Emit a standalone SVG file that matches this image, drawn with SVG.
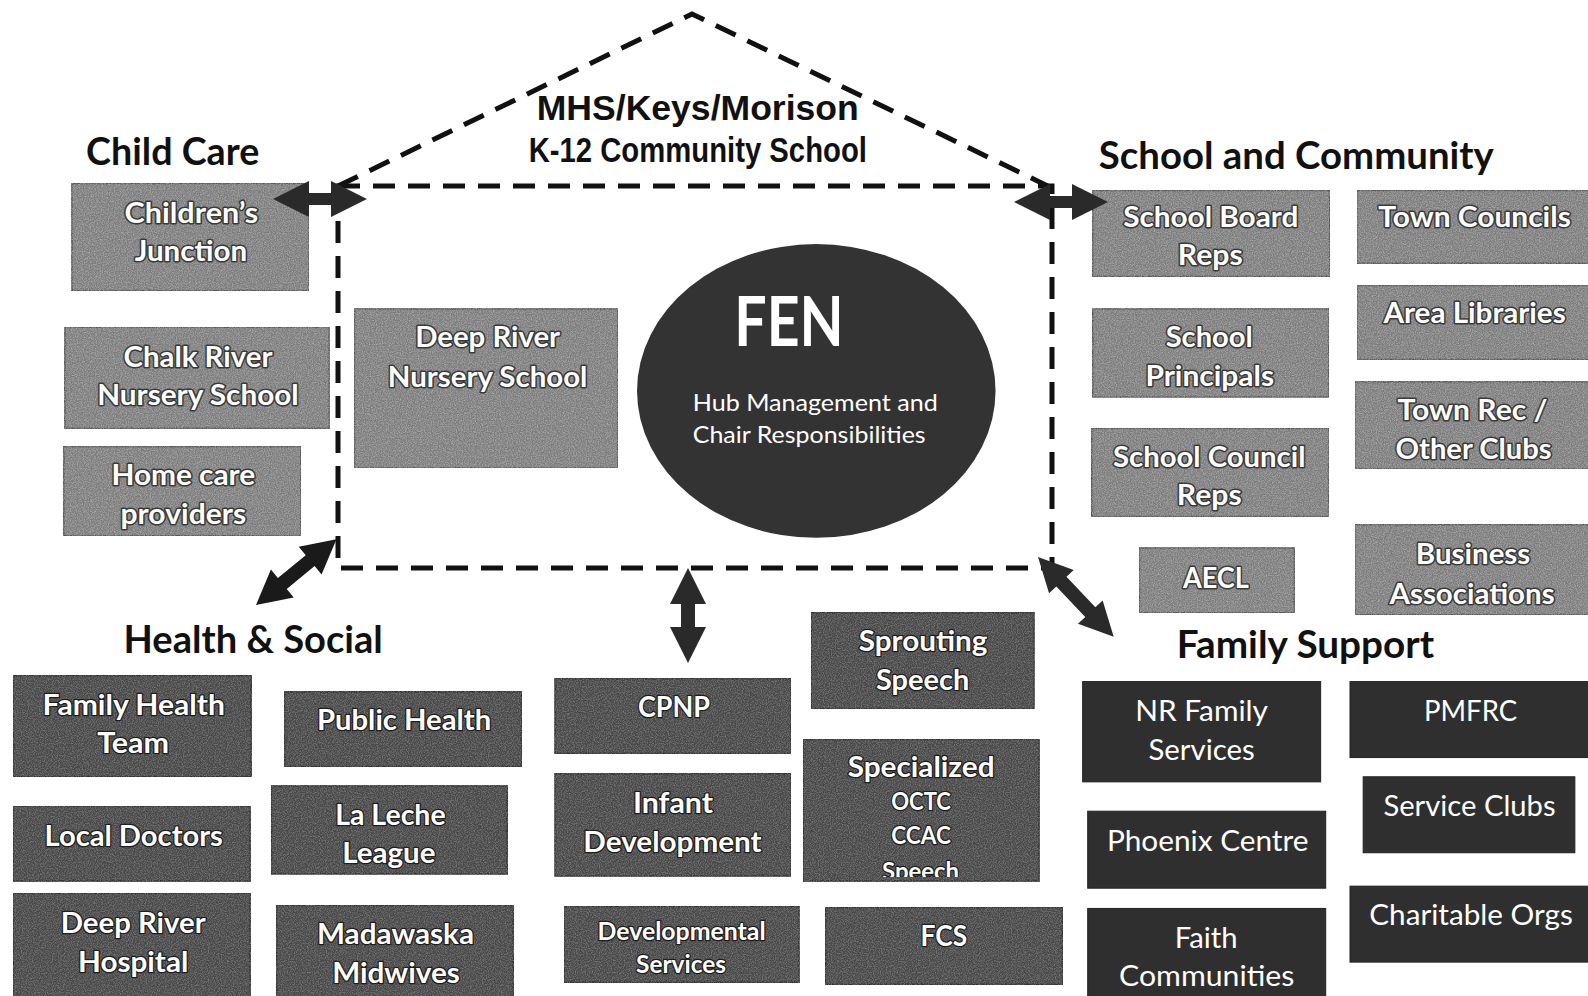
<svg xmlns="http://www.w3.org/2000/svg" width="1588" height="996" viewBox="0 0 1588 996">
  <defs>
    <style>
      .cc { fill: #7b7b7b; stroke: #555; stroke-width: 1.5; filter: url(#grain); }
      .hs { fill: #484848; stroke: #303030; stroke-width: 1.5; filter: url(#grain-soft); }
      .fs { fill: #2f2f2f; stroke: #222; stroke-width: 1; }
      .hd { font-family: Lato, "Open Sans", sans-serif; font-weight: 700; font-size: 38px; fill: #111; }
      .tt { font-family: "Liberation Sans Narrow", "Liberation Sans", Arial, sans-serif; font-weight: 700; font-size: 35px; fill: #111; }
      .lb { font-family: Lato, "Open Sans", sans-serif; font-weight: 700; font-size: 28px; fill: #fff; stroke: #3a3a3a; stroke-width: 3px; paint-order: stroke; stroke-linejoin: round; }
      .hb { font-family: Lato, "Open Sans", sans-serif; font-weight: 700; font-size: 28px; fill: #fff; stroke: #1e1e1e; stroke-width: 2.5px; paint-order: stroke; stroke-linejoin: round; }
      .hb.sm { font-size: 24px; }
      .fb { font-family: Lato, "Open Sans", sans-serif; font-weight: 400; font-size: 28px; fill: #fff; }
      .fen { font-family: Lato, "Open Sans", sans-serif; fill: #fff; }
      .dash { fill: none; stroke: #111; stroke-width: 5; stroke-dasharray: 22 13; }
      .arr { fill: #2a2a2a; }
    </style>
    <!-- speckled texture for the grey boxes -->
    <filter id="grain" x="0" y="0" width="100%" height="100%">
      <feTurbulence type="fractalNoise" baseFrequency="0.85" numOctaves="2" seed="4" result="noise"/>
      <feColorMatrix in="noise" type="matrix" values="0 0 0 0 1  0 0 0 0 1  0 0 0 0 1  0.5 0 0 0 -0.18" result="speck"/>
      <feComposite in="speck" in2="SourceGraphic" operator="in" result="speckIn"/>
      <feMerge>
        <feMergeNode in="SourceGraphic"/>
        <feMergeNode in="speckIn"/>
      </feMerge>
    </filter>
    <filter id="grain-soft" x="0" y="0" width="100%" height="100%">
      <feTurbulence type="fractalNoise" baseFrequency="0.85" numOctaves="2" seed="9" result="noise"/>
      <feColorMatrix in="noise" type="matrix" values="0 0 0 0 1  0 0 0 0 1  0 0 0 0 1  0.3 0 0 0 -0.12" result="speck"/>
      <feComposite in="speck" in2="SourceGraphic" operator="in" result="speckIn"/>
      <feMerge>
        <feMergeNode in="SourceGraphic"/>
        <feMergeNode in="speckIn"/>
      </feMerge>
    </filter>
    <clipPath id="clip-specialized">
      <rect x="793" y="730" width="233" height="136"/>
    </clipPath>
  </defs>

  <rect width="1588" height="996" fill="#fff"/>

  <g transform="scale(1.01276)">
    <!-- school title -->
    <g id="school-title">
      <text class="tt" x="530" y="118" textLength="318" lengthAdjust="spacingAndGlyphs">MHS/Keys/Morison</text>
      <text class="tt" x="522" y="160" textLength="334" lengthAdjust="spacingAndGlyphs">K-12 Community School</text>
    </g>

    <!-- section headings -->
    <g id="headings">
      <text class="hd" x="85" y="163" textLength="171" lengthAdjust="spacingAndGlyphs">Child Care</text>
      <text class="hd" x="1085" y="167" textLength="390" lengthAdjust="spacingAndGlyphs">School and Community</text>
      <text class="hd" x="122" y="645" textLength="256" lengthAdjust="spacingAndGlyphs">Health &amp; Social</text>
      <text class="hd" x="1162" y="650" textLength="254" lengthAdjust="spacingAndGlyphs">Family Support</text>
    </g>

    <!-- hub -->
    <g id="fen">
      <ellipse cx="806" cy="386" rx="177" ry="145" fill="#333"/>
      <text class="fen" x="725" y="342" font-size="68" font-weight="700" textLength="108" lengthAdjust="spacingAndGlyphs">FEN</text>
      <text class="fen" x="684" y="406" font-size="22" textLength="242" lengthAdjust="spacingAndGlyphs">Hub Management and</text>
      <text class="fen" x="684" y="437" font-size="22" textLength="230" lengthAdjust="spacingAndGlyphs">Chair Responsibilities</text>
    </g>

    <!-- child care -->
    <g id="childrens-junction">
      <rect class="cc" x="71" y="181" width="234" height="106"/>
      <text class="lb" x="123" y="220" textLength="132" lengthAdjust="spacingAndGlyphs">Children’s</text>
      <text class="lb" x="133" y="258" textLength="111" lengthAdjust="spacingAndGlyphs">Junction</text>
    </g>
    <g id="chalk-river-nursery">
      <rect class="cc" x="64" y="323" width="261" height="100"/>
      <text class="lb" x="122" y="362" textLength="147" lengthAdjust="spacingAndGlyphs">Chalk River</text>
      <text class="lb" x="96" y="400" textLength="199" lengthAdjust="spacingAndGlyphs">Nursery School</text>
    </g>
    <g id="home-care">
      <rect class="cc" x="63" y="441" width="234" height="88"/>
      <text class="lb" x="110" y="479" textLength="142" lengthAdjust="spacingAndGlyphs">Home care</text>
      <text class="lb" x="119" y="517" textLength="124" lengthAdjust="spacingAndGlyphs">providers</text>
    </g>
    <g id="deep-river-nursery">
      <rect class="cc" x="350" y="305" width="260" height="157"/>
      <text class="lb" x="410" y="343" textLength="143" lengthAdjust="spacingAndGlyphs">Deep River</text>
      <text class="lb" x="383" y="382" textLength="197" lengthAdjust="spacingAndGlyphs">Nursery School</text>
    </g>

    <!-- school and community -->
    <g id="school-board-reps">
      <rect class="cc" x="1079" y="188" width="234" height="85"/>
      <text class="lb" x="1109" y="224" textLength="173" lengthAdjust="spacingAndGlyphs">School Board</text>
      <text class="lb" x="1163" y="262" textLength="64" lengthAdjust="spacingAndGlyphs">Reps</text>
    </g>
    <g id="town-councils">
      <rect class="cc" x="1340" y="188" width="232" height="72"/>
      <text class="lb" x="1361" y="224" textLength="190" lengthAdjust="spacingAndGlyphs">Town Councils</text>
    </g>
    <g id="area-libraries">
      <rect class="cc" x="1340" y="282" width="232" height="73"/>
      <text class="lb" x="1366" y="319" textLength="180" lengthAdjust="spacingAndGlyphs">Area Libraries</text>
    </g>
    <g id="school-principals">
      <rect class="cc" x="1079" y="305" width="233" height="87"/>
      <text class="lb" x="1151" y="343" textLength="86" lengthAdjust="spacingAndGlyphs">School</text>
      <text class="lb" x="1131" y="381" textLength="127" lengthAdjust="spacingAndGlyphs">Principals</text>
    </g>
    <g id="town-rec">
      <rect class="cc" x="1338" y="377" width="234" height="86"/>
      <text class="lb" x="1380" y="415" textLength="148" lengthAdjust="spacingAndGlyphs">Town Rec /</text>
      <text class="lb" x="1378" y="453" textLength="154" lengthAdjust="spacingAndGlyphs">Other Clubs</text>
    </g>
    <g id="school-council-reps">
      <rect class="cc" x="1078" y="423" width="234" height="87"/>
      <text class="lb" x="1099" y="461" textLength="190" lengthAdjust="spacingAndGlyphs">School Council</text>
      <text class="lb" x="1162" y="499" textLength="64" lengthAdjust="spacingAndGlyphs">Reps</text>
    </g>
    <g id="aecl">
      <rect class="cc" x="1125" y="541" width="153" height="64"/>
      <text class="lb" x="1168" y="581" textLength="65" lengthAdjust="spacingAndGlyphs">AECL</text>
    </g>
    <g id="business-associations">
      <rect class="cc" x="1338" y="518" width="234" height="89"/>
      <text class="lb" x="1398" y="557" textLength="113" lengthAdjust="spacingAndGlyphs">Business</text>
      <text class="lb" x="1372" y="596" textLength="163" lengthAdjust="spacingAndGlyphs">Associations</text>
    </g>

    <!-- health and social -->
    <g id="family-health-team">
      <rect class="hs" x="13" y="667" width="235" height="100"/>
      <text class="hb" x="42" y="706" textLength="180" lengthAdjust="spacingAndGlyphs">Family Health</text>
      <text class="hb" x="96" y="744" textLength="71" lengthAdjust="spacingAndGlyphs">Team</text>
    </g>
    <g id="public-health">
      <rect class="hs" x="281" y="683" width="234" height="74"/>
      <text class="hb" x="313" y="721" textLength="172" lengthAdjust="spacingAndGlyphs">Public Health</text>
    </g>
    <g id="local-doctors">
      <rect class="hs" x="13" y="796" width="234" height="74"/>
      <text class="hb" x="44" y="835" textLength="176" lengthAdjust="spacingAndGlyphs">Local Doctors</text>
    </g>
    <g id="la-leche-league">
      <rect class="hs" x="268" y="776" width="233" height="87"/>
      <text class="hb" x="331" y="815" textLength="109" lengthAdjust="spacingAndGlyphs">La Leche</text>
      <text class="hb" x="338" y="852" textLength="92" lengthAdjust="spacingAndGlyphs">League</text>
    </g>
    <g id="deep-river-hospital">
      <rect class="hs" x="13" y="882" width="234" height="104"/>
      <text class="hb" x="60" y="921" textLength="143" lengthAdjust="spacingAndGlyphs">Deep River</text>
      <text class="hb" x="77" y="960" textLength="109" lengthAdjust="spacingAndGlyphs">Hospital</text>
    </g>
    <g id="madawaska-midwives">
      <rect class="hs" x="273" y="894" width="234" height="92"/>
      <text class="hb" x="313" y="932" textLength="155" lengthAdjust="spacingAndGlyphs">Madawaska</text>
      <text class="hb" x="328" y="971" textLength="126" lengthAdjust="spacingAndGlyphs">Midwives</text>
    </g>
    <g id="cpnp">
      <rect class="hs" x="548" y="670" width="233" height="74"/>
      <text class="hb" x="630" y="708" textLength="71" lengthAdjust="spacingAndGlyphs">CPNP</text>
    </g>
    <g id="infant-development">
      <rect class="hs" x="548" y="764" width="233" height="101"/>
      <text class="hb" x="625" y="803" textLength="79" lengthAdjust="spacingAndGlyphs">Infant</text>
      <text class="hb" x="576" y="841" textLength="176" lengthAdjust="spacingAndGlyphs">Development</text>
    </g>
    <g id="developmental-services">
      <rect class="hs" x="557" y="895" width="232" height="75"/>
      <text class="hb sm" x="590" y="928" textLength="166" lengthAdjust="spacingAndGlyphs">Developmental</text>
      <text class="hb sm" x="628" y="961" textLength="89" lengthAdjust="spacingAndGlyphs">Services</text>
    </g>
    <g id="sprouting-speech">
      <rect class="hs" x="801" y="605" width="220" height="95"/>
      <text class="hb" x="848" y="643" textLength="127" lengthAdjust="spacingAndGlyphs">Sprouting</text>
      <text class="hb" x="865" y="681" textLength="92" lengthAdjust="spacingAndGlyphs">Speech</text>
    </g>
    <g id="specialized">
      <rect class="hs" x="793" y="730" width="233" height="140"/>
      <g clip-path="url(#clip-specialized)">
        <text class="hb" x="837" y="767" textLength="145" lengthAdjust="spacingAndGlyphs">Specialized</text>
        <text class="hb sm" x="880" y="800" textLength="59" lengthAdjust="spacingAndGlyphs">OCTC</text>
        <text class="hb sm" x="880" y="833" textLength="59" lengthAdjust="spacingAndGlyphs">CCAC</text>
        <text class="hb sm" x="871" y="869" textLength="76" lengthAdjust="spacingAndGlyphs">Speech</text>
      </g>
    </g>
    <g id="fcs">
      <rect class="hs" x="815" y="896" width="234" height="76"/>
      <text class="hb" x="909" y="934" textLength="46" lengthAdjust="spacingAndGlyphs">FCS</text>
    </g>

    <!-- family support -->
    <g id="nr-family-services">
      <rect class="fs" x="1069" y="673" width="235" height="99"/>
      <text class="fb" x="1121" y="712" textLength="131" lengthAdjust="spacingAndGlyphs">NR Family</text>
      <text class="fb" x="1134" y="750" textLength="105" lengthAdjust="spacingAndGlyphs">Services</text>
    </g>
    <g id="pmfrc">
      <rect class="fs" x="1333" y="673" width="239" height="75"/>
      <text class="fb" x="1406" y="712" textLength="92" lengthAdjust="spacingAndGlyphs">PMFRC</text>
    </g>
    <g id="phoenix-centre">
      <rect class="fs" x="1074" y="801" width="235" height="76"/>
      <text class="fb" x="1093" y="840" textLength="199" lengthAdjust="spacingAndGlyphs">Phoenix Centre</text>
    </g>
    <g id="service-clubs">
      <rect class="fs" x="1346" y="767" width="209" height="75"/>
      <text class="fb" x="1366" y="806" textLength="170" lengthAdjust="spacingAndGlyphs">Service Clubs</text>
    </g>
    <g id="faith-communities">
      <rect class="fs" x="1074" y="897" width="235" height="90"/>
      <text class="fb" x="1160" y="936" textLength="62" lengthAdjust="spacingAndGlyphs">Faith</text>
      <text class="fb" x="1105" y="974" textLength="173" lengthAdjust="spacingAndGlyphs">Communities</text>
    </g>
    <g id="charitable-orgs">
      <rect class="fs" x="1333" y="875" width="239" height="75"/>
      <text class="fb" x="1352" y="913" textLength="201" lengthAdjust="spacingAndGlyphs">Charitable Orgs</text>
    </g>
  </g>

  <!-- dashed school outline and the double arrows linking it to each group -->
  <g id="connectors">
    <path class="dash" d="M338,186 H1052 V568 H338 Z"/>
    <path class="dash" d="M338,186 L692,14 L1052,188"/>
    <polygon class="arr" transform="translate(273,199)" points="0,0 36,-18 36,-6 58,-6 58,-18 94,0 58,18 58,6 36,6 36,18"/>
    <polygon class="arr" transform="translate(1014,202)" points="0,0 36,-18 36,-6 58,-6 58,-18 94,0 58,18 58,6 36,6 36,18"/>
    <polygon class="arr" style="fill:#1a1a1a" transform="translate(256,605) rotate(-39.3)" points="0,0 34,-18 34,-7 70,-7 70,-18 104,0 70,18 70,7 34,7 34,18"/>
    <polygon class="arr" transform="translate(688,568) rotate(90)" points="0,0 36,-18 36,-7 59,-7 59,-18 95,0 59,18 59,7 36,7 36,18"/>
    <polygon class="arr" transform="translate(1038,557) rotate(46.5)" points="0,0 34,-17 34,-7 76,-7 76,-17 110,0 76,17 76,7 34,7 34,17"/>
  </g>
</svg>
